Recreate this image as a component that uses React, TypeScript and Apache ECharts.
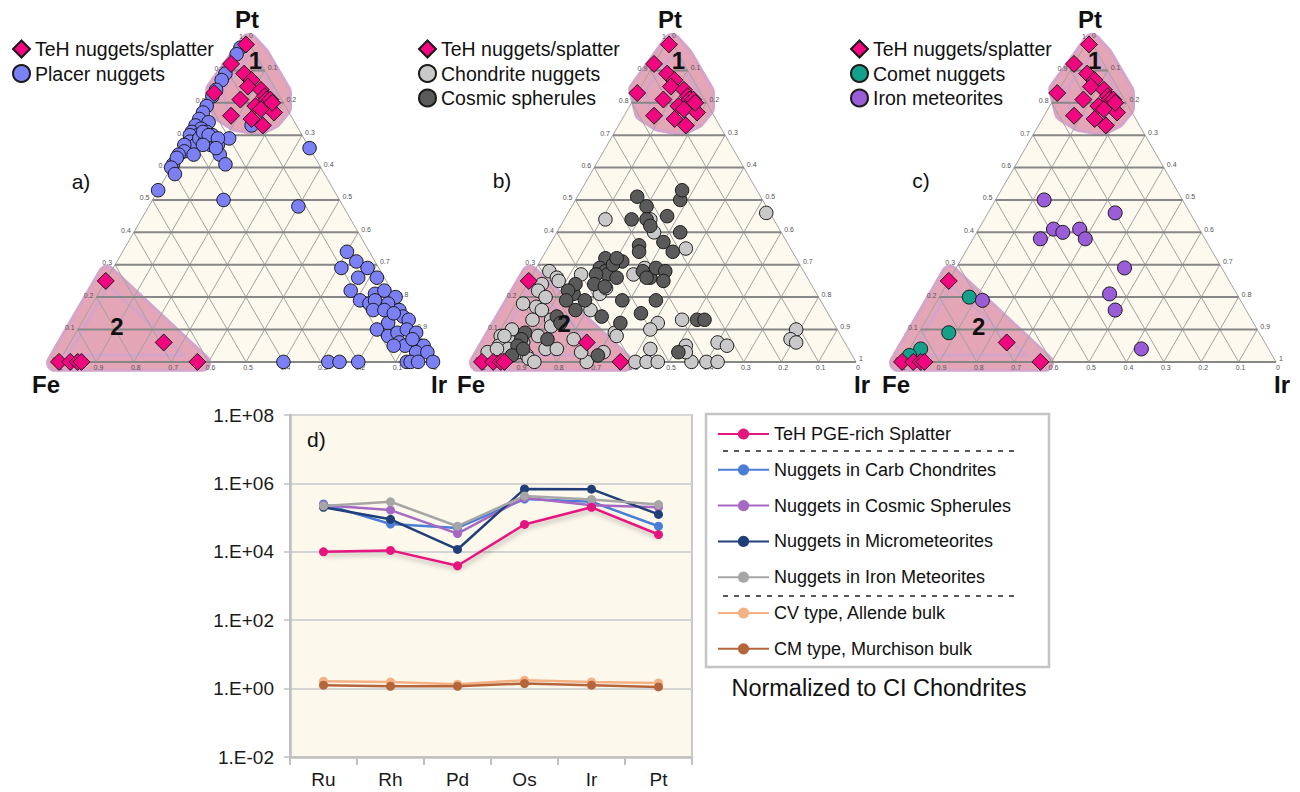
import React, { useEffect, useRef } from 'react';
import * as echarts from 'echarts';

const FONT = '"Liberation Sans", Arial, Helvetica, sans-serif';

// ---------- Ternary data, [Fe, Ir, Pt] in percent ----------
const TEH_NUGGETS = [
  [1, 1, 98], [8, 0, 92], [6, 5, 89], [5, 8, 87], [7, 8, 85], [4, 12, 84], [4, 14, 82], [4, 15, 81], [3, 16, 81],
  [17, 0, 83], [11, 8, 81], [8, 13, 79], [7, 15, 78], [4, 19, 77], [16, 8, 76], [11, 14, 75], [9, 18, 73], [3, 17, 80],
  [75, 0, 25], [69, 25, 6], [63, 37, 0], [100, 0, 0], [97, 3, 0], [95, 5, 0], [94, 6, 0],
];

const PLACER_NUGGETS = [
  [3, 0, 97], [5, 0, 95], [11, 0, 89], [13, 0, 87], [16, 0, 84], [18, 0, 82], [21, 0, 79], [23, 0, 77], [25, 0, 75],
  [23, 3, 74], [27, 0, 73], [26, 2, 72], [29, 0, 71], [28, 2, 70], [25, 4, 71], [24, 6, 70], [30, 0, 70], [31, 1, 68],
  [30, 3, 67], [26, 7, 67], [24, 9, 67], [33, 0, 67], [34, 1, 65], [32, 4, 64], [36, 0, 64], [25, 11, 64], [25, 14, 61],
  [39, 0, 61], [37, 0, 63], [40, 0, 60], [40, 2, 58], [20, 11, 69], [47, 0, 53], [31, 19, 50], [12, 40, 48], [0, 34, 66],
  [12, 15, 73], [28, 3, 69], [27, 5, 68], [26, 3, 71], [25, 5, 70], [23, 8, 69], [28, 5, 67], [25, 9, 66],
  [6, 60, 34], [10, 61, 29], [5, 64, 31], [3, 68, 29], [7, 67, 26], [2, 72, 26], [11, 67, 22], [10, 71, 19], [8, 74, 18],
  [5, 74, 21], [2, 76, 22], [0, 80, 20], [6, 75, 19], [3, 79, 18], [8, 76, 16], [5, 79, 16], [1, 83, 16], [1, 85, 14],
  [6, 82, 12], [10, 80, 10], [8, 84, 8], [5, 86, 9], [0, 87, 13], [2, 88, 10], [0, 91, 9], [6, 88, 6], [5, 90, 5],
  [1, 94, 5], [0, 95, 5], [3, 94, 3], [0, 97, 3], [3, 82, 15], [2, 91, 7], [8, 87, 5],
  [40, 60, 0], [28, 72, 0], [25, 75, 0], [20, 80, 0], [7, 93, 0], [6, 94, 0], [4, 96, 0], [0, 100, 0],
];

const CHONDRITE_NUGGETS = [
  [45, 11, 44], [1, 53, 46], [33, 23, 44], [34, 26, 40], [28, 37, 35], [42, 29, 29], [46, 27, 27], [55, 19, 26],
  [58, 21, 21], [40, 47, 13], [47, 41, 12], [50, 40, 10], [11, 79, 10], [14, 79, 7], [13, 81, 6], [34, 60, 6],
  [32, 63, 5], [43, 52, 5], [53, 43, 4], [60, 31, 9], [66, 31, 3], [72, 28, 0], [59, 41, 0], [56, 44, 0], [53, 47, 0],
  [44, 56, 0], [40, 60, 0], [37, 63, 0], [68, 4, 28], [67, 7, 26], [67, 8, 25], [72, 4, 24], [74, 4, 22], [80, 2, 18],
  [77, 6, 17], [76, 8, 16], [80, 7, 13], [75, 12, 13], [76, 13, 11], [87, 3, 10], [91, 1, 8], [89, 5, 6], [86, 8, 6],
  [81, 11, 8], [81, 15, 4], [78, 18, 4], [93, 2, 5], [91, 5, 4], [89, 8, 3], [87, 11, 2], [87, 12, 1], [72, 21, 7],
  [72, 25, 3], [60, 32, 8], [60, 13, 27], [63, 21, 16], [56, 22, 23], [97, 0, 3], [94, 2, 4], [86, 14, 0], [73, 7, 20],
  [90, 2, 8], [44, 53, 3],
];

const COSMIC_SPHERULES = [
  [33, 16, 51], [32, 20, 48], [22, 28, 50], [20, 27, 53], [38, 18, 44], [34, 22, 44], [34, 24, 42], [28, 27, 45],
  [33, 30, 37], [27, 33, 40], [32, 34, 34], [40, 24, 36], [41, 25, 34], [49, 20, 31], [51, 17, 32], [47, 22, 31],
  [54, 17, 29], [53, 19, 28], [53, 20, 27], [56, 17, 27], [51, 23, 26], [58, 18, 24], [55, 21, 23], [65, 14, 21],
  [43, 29, 28], [42, 32, 26], [39, 32, 29], [37, 35, 28], [39, 36, 25], [53, 28, 19], [44, 37, 19], [63, 18, 19],
  [36, 51, 13], [34, 53, 13], [46, 51, 3], [50, 35, 15], [63, 13, 24], [66, 12, 22], [68, 13, 19], [67, 17, 16],
  [73, 13, 14], [73, 15, 12], [79, 14, 7], [84, 7, 9], [86, 7, 7], [88, 7, 5], [91, 7, 2], [87, 9, 4], [61, 25, 14],
  [68, 30, 2], [57, 31, 12], [50, 20, 30], [48, 20, 32], [43, 31, 26],
];

const COMET_NUGGETS = [[72, 8, 20], [83, 8, 9], [93, 3, 4], [97, 1, 2]];

const IRON_METEORITES = [
  [37, 13, 50], [20, 34, 46], [39, 20, 41], [37, 23, 40], [32, 27, 41], [44, 18, 38], [32, 30, 38], [26, 45, 29],
  [34, 45, 21], [35, 49, 16], [34, 62, 4], [69, 12, 19],
];

// outlines of the highlighted fields (inner edge, [Fe, Ir, Pt] %)
const FIELD_1 = [[-0.2, 1.4, 98.8], [16.5, -0.5, 84], [18.5, 4.6, 76.9], [15.8, 10.4, 73.8], [10.3, 17.2, 72.5],
  [5.4, 19.9, 74.7], [0.9, 20.7, 78.4], [-1.5, 18.2, 83.3], [-1.4, 6.6, 94.8]];
const FIELD_2 = [[73.6, -0.8, 27.2], [101.2, -0.9, -0.3], [61.9, 38.4, -0.3]];
const FIELD_1_LABEL = [[1, 6, 93], [1, 6, 93], [2, 5, 93]];
const FIELD_2_LABEL = [[79, 10, 11], [72, 16, 12], [74, 15, 11]];

// ---------- CI-normalized PGE patterns ----------
const PGE = ['Ru', 'Rh', 'Pd', 'Os', 'Ir', 'Pt'];
const TEH_SPLATTER = [1.0e4, 1.1e4, 3.9e3, 6.3e4, 2.0e5, 3.2e4];
const CARB_CHONDRITES = [2.5e5, 6.5e4, 5.0e4, 3.5e5, 2.9e5, 5.6e4];
const COSMIC_SPH = [2.3e5, 1.66e5, 3.4e4, 3.8e5, 2.3e5, 2.0e5];
const MICROMETEORITES = [2.0e5, 8.9e4, 1.17e4, 6.9e5, 6.8e5, 1.24e5];
const IRON_MET = [2.2e5, 2.9e5, 5.6e4, 4.3e5, 3.4e5, 2.4e5];
const ALLENDE = [1.65, 1.57, 1.35, 1.76, 1.57, 1.47];
const MURCHISON = [1.26, 1.17, 1.17, 1.41, 1.26, 1.12];

const H = Math.sqrt(3) / 2;
const tern = (p: number[]) => {
  const s = p[0] + p[1] + p[2];
  return [(p[1] + p[2] / 2) / s, (p[2] / s) * H];
};
const tick = (k: number) => (k === 0 ? '0' : k === 10 ? '1' : '0.' + k);

const TRI_LEFT = [59, 482, 902];
const FE_DX = [-13, -11, -6];
const TRI_TOP = 38;
const TRI_W = 374;

const FILL = '#fdf9ee';
const HLINE = '#878787';
const DLINE = '#a2a2a2';
const FIELD_FILL = '#e4a5b7';
const FIELD_EDGE = '#d4a4cb';

function buildOption() {
  const grid: any[] = [];
  const xAxis: any[] = [];
  const yAxis: any[] = [];
  const series: any[] = [];
  const legend: any[] = [];

  const panels = [
    { others: [{ name: 'Placer nuggets', data: PLACER_NUGGETS, color: '#7b80f4', size: 13.5 }], legendLeft: 7 },
    {
      others: [
        { name: 'Chondrite nuggets', data: CHONDRITE_NUGGETS, color: '#c9c9c9', size: 13.5 },
        { name: 'Cosmic spherules', data: COSMIC_SPHERULES, color: '#5a5a5a', size: 13.5 },
      ],
      legendLeft: 413,
    },
    {
      others: [
        { name: 'Comet nuggets', data: COMET_NUGGETS, color: '#14a08a', size: 14 },
        { name: 'Iron meteorites', data: IRON_METEORITES, color: '#9b5cd8', size: 14 },
      ],
      legendLeft: 845,
    },
  ];

  panels.forEach((pn, i) => {
    grid.push({ left: TRI_LEFT[i], top: TRI_TOP, width: TRI_W, height: TRI_W * H, outerBoundsMode: 'none' });
    xAxis.push({ type: 'value', gridIndex: i, min: 0, max: 1, show: false });
    yAxis.push({ type: 'value', gridIndex: i, min: 0, max: H, show: false });

    // triangle background + highlighted fields
    series.push({
      type: 'custom', xAxisIndex: i, yAxisIndex: i, silent: true, z: 1, clip: false,
      data: [[0.5, 0.2]],
      renderItem: (_p: any, api: any) => {
        const P = (t: number[]) => api.coord(tern(t));
        const children: any[] = [
          { type: 'polygon', shape: { points: [P([100, 0, 0]), P([0, 100, 0]), P([0, 0, 100])] }, style: { fill: FILL } },
        ];
        [FIELD_1, FIELD_2].forEach((f) => {
          const pts = f.map(P);
          children.push({ type: 'polygon', shape: { points: pts }, style: { fill: FIELD_FILL, stroke: FIELD_EDGE, lineWidth: 18, lineJoin: 'round' } });
          children.push({ type: 'polygon', shape: { points: pts }, style: { fill: 'none', stroke: FIELD_FILL, lineWidth: 12, lineJoin: 'round' } });
        });
        return { type: 'group', children };
      },
    });

    // grid lines, tick labels, corner labels
    series.push({
      type: 'custom', xAxisIndex: i, yAxisIndex: i, silent: true, z: 2, clip: false,
      data: [[0.5, 0.2]],
      renderItem: (_p: any, api: any) => {
        const P = (t: number[]) => api.coord(tern(t));
        const seg = (a: number[], b: number[], stroke: string, w: number) => ({
          type: 'line', shape: { x1: a[0], y1: a[1], x2: b[0], y2: b[1] }, style: { stroke, lineWidth: w },
        });
        const txt = (x: number, y: number, text: string, align: string, va: string, size = 7, bold = false, fill = '#555') => ({
          type: 'text', x, y,
          style: { text, fontSize: size, fontFamily: FONT, fontWeight: bold ? 'bold' : 'normal', fill, align, verticalAlign: va },
        });
        const c: any[] = [];
        for (let k = 0; k <= 9; k++) {
          const a = 10 * k, b = 100 - a;
          c.push(seg(P([b, a, 0]), P([0, a, b]), DLINE, 1));
          c.push(seg(P([a, b, 0]), P([a, 0, b]), DLINE, 1));
        }
        for (let k = 0; k <= 9; k++) {
          const a = 10 * k, b = 100 - a;
          c.push(seg(P([b, 0, a]), P([0, b, a]), HLINE, 2));
        }
        for (let k = 0; k <= 10; k++) {
          const a = 10 * k, b = 100 - a;
          const L = P([b, 0, a]);
          c.push(txt(L[0] - 3, L[1] - 2, tick(k), 'right', 'middle'));
          const R = P([0, b, a]);
          c.push(txt(R[0] + 3, R[1] - 3, tick(10 - k), 'left', 'middle'));
          const B = P([b, a, 0]);
          c.push(txt(B[0] + 2, B[1] + 2, tick(10 - k), 'center', 'top'));
        }
        const top = P([0, 0, 100]);
        const fe = P([100, 0, 0]);
        const ir = P([0, 100, 0]);
        c.push(txt(top[0] + 1, top[1] - 19, 'Pt', 'center', 'middle', 24, true, '#111'));
        c.push(txt(fe[0] + FE_DX[i], fe[1] + 23, 'Fe', 'center', 'middle', 24, true, '#111'));
        c.push(txt(ir[0] + 6, ir[1] + 23, 'Ir', 'center', 'middle', 24, true, '#111'));
        return { type: 'group', children: c };
      },
    });

    pn.others.forEach((o, j) => {
      series.push({
        type: 'scatter', name: o.name, xAxisIndex: i, yAxisIndex: i, z: 3 + j * 0.1, clip: false,
        symbol: 'circle', symbolSize: o.size,
        itemStyle: { color: o.color, borderColor: '#1a1a1a', borderWidth: 1, opacity: 1 },
        data: o.data.map(tern),
      });
    });
    series.push({
      type: 'scatter', name: 'TeH nuggets/splatter', xAxisIndex: i, yAxisIndex: i, z: 4, clip: false,
      symbol: 'diamond', symbolSize: 17,
      itemStyle: { color: '#f2067f', borderColor: '#1a1a1a', borderWidth: 1, opacity: 1 },
      data: TEH_NUGGETS.map(tern),
    });

    // field numbers
    series.push({
      type: 'custom', xAxisIndex: i, yAxisIndex: i, silent: true, z: 5, clip: false,
      data: [[0.5, 0.2]],
      renderItem: (_p: any, api: any) => {
        const P = (t: number[]) => api.coord(tern(t));
        const a = P(FIELD_1_LABEL[i]);
        const b = P(FIELD_2_LABEL[i]);
        const st = (text: string) => ({ text, fontSize: 24, fontWeight: 'bold', fontFamily: FONT, fill: '#111', align: 'center', verticalAlign: 'middle' });
        return {
          type: 'group',
          children: [
            { type: 'text', x: a[0], y: a[1], style: st('1') },
            { type: 'text', x: b[0], y: b[1], style: st('2') },
          ],
        };
      },
    });

    legend.push({
      left: pn.legendLeft, top: 34, orient: 'vertical', itemWidth: 17, itemHeight: 17, itemGap: 4.5,
      selectedMode: false,
      textStyle: { fontSize: 19.5, color: '#111', fontFamily: FONT },
      data: [{ name: 'TeH nuggets/splatter', icon: 'diamond' }, ...pn.others.map((o) => ({ name: o.name, icon: 'circle' }))],
    });
  });

  // ---------- line chart (d) ----------
  grid.push({
    left: 290, top: 415, width: 402, height: 342, show: true, backgroundColor: '#fdf8ec',
    borderColor: '#c8c8c8', borderWidth: 2, outerBoundsMode: 'none',
  });
  xAxis.push({
    type: 'category', gridIndex: 3, data: PGE, boundaryGap: true,
    axisLine: { show: true, lineStyle: { color: '#c0c0c0', width: 2.5 } },
    axisTick: { show: true, length: 8, interval: 0, lineStyle: { color: '#c0c0c0', width: 2 } },
    axisLabel: { fontSize: 19, color: '#1a1a1a', fontFamily: FONT, margin: 13 },
  });
  yAxis.push({
    type: 'log', logBase: 10, gridIndex: 3, min: 0.01, max: 1e8, interval: 2, splitNumber: 5,
    axisLine: { show: true, lineStyle: { color: '#c0c0c0', width: 2.5 } },
    axisTick: { show: true, length: 6, lineStyle: { color: '#c0c0c0', width: 1.5 } },
    splitLine: { show: true, lineStyle: { color: '#d4d4d4', width: 2 } },
    axisLabel: {
      fontSize: 19, color: '#1a1a1a', fontFamily: FONT, margin: 16,
      formatter: (v: number) => {
        const e = Math.round(Math.log10(v));
        return '1.E' + (e < 0 ? '-' : '+') + String(Math.abs(e)).padStart(2, '0');
      },
    },
  });

  const lines = [
    { name: 'CV type, Allende bulk', data: ALLENDE, color: '#f4b183' },
    { name: 'CM type, Murchison bulk', data: MURCHISON, color: '#b5653a' },
    { name: 'Nuggets in Carb Chondrites', data: CARB_CHONDRITES, color: '#4a7ed6' },
    { name: 'Nuggets in Cosmic Spherules', data: COSMIC_SPH, color: '#a569c3' },
    { name: 'Nuggets in Micrometeorites', data: MICROMETEORITES, color: '#203f78' },
    { name: 'Nuggets in Iron Meteorites', data: IRON_MET, color: '#a6a6a6' },
    { name: 'TeH PGE-rich Splatter', data: TEH_SPLATTER, color: '#e5157f' },
  ];
  lines.forEach((l) => {
    const pink = l.name.startsWith('TeH');
    series.push({
      type: 'line', name: l.name, xAxisIndex: 3, yAxisIndex: 3, data: l.data,
      symbol: 'circle', symbolSize: 9, showSymbol: true, z: 3,
      itemStyle: { color: l.color },
      lineStyle: pink
        ? { color: l.color, width: 2.5, shadowColor: 'rgba(0,0,0,0.3)', shadowBlur: 5, shadowOffsetY: 3, shadowOffsetX: 1 }
        : { color: l.color, width: 2.5 },
    });
  });
  legend.push({
    left: 712, top: 420, orient: 'vertical', itemWidth: 51, itemHeight: 14, itemGap: 17.8, selectedMode: false,
    textStyle: { fontSize: 18, color: '#111', fontFamily: FONT },
    data: [
      'TeH PGE-rich Splatter', 'Nuggets in Carb Chondrites', 'Nuggets in Cosmic Spherules',
      'Nuggets in Micrometeorites', 'Nuggets in Iron Meteorites', 'CV type, Allende bulk', 'CM type, Murchison bulk',
    ],
  });

  const graphic: any[] = [
    { type: 'rect', z: 0, shape: { x: 706, y: 414, width: 343, height: 253 }, style: { fill: '#fff', stroke: '#c4c4c4', lineWidth: 2.5 } },
    { type: 'line', z: 1, shape: { x1: 723, y1: 451, x2: 1020, y2: 451 }, style: { stroke: '#222', lineWidth: 1.5, lineDash: [5, 6] } },
    { type: 'line', z: 1, shape: { x1: 723, y1: 596, x2: 1020, y2: 596 }, style: { stroke: '#222', lineWidth: 1.5, lineDash: [5, 6] } },
    { type: 'text', z: 5, x: 879, y: 688, style: { text: 'Normalized to CI Chondrites', fontSize: 23.5, fontFamily: FONT, fill: '#111', align: 'center', verticalAlign: 'middle' } },
    { type: 'text', z: 5, x: 307, y: 439, style: { text: 'd)', fontSize: 21, fontFamily: FONT, fill: '#111', align: 'left', verticalAlign: 'middle' } },
    { type: 'text', z: 5, x: 81, y: 181, style: { text: 'a)', fontSize: 21, fontFamily: FONT, fill: '#111', align: 'center', verticalAlign: 'middle' } },
    { type: 'text', z: 5, x: 502, y: 180, style: { text: 'b)', fontSize: 21, fontFamily: FONT, fill: '#111', align: 'center', verticalAlign: 'middle' } },
    { type: 'text', z: 5, x: 921, y: 180, style: { text: 'c)', fontSize: 21, fontFamily: FONT, fill: '#111', align: 'center', verticalAlign: 'middle' } },
  ];

  return {
    animation: false,
    backgroundColor: '#ffffff',
    textStyle: { fontFamily: FONT },
    grid, xAxis, yAxis, series, legend, graphic,
  };
}

export default function App() {
  const ref = useRef<HTMLDivElement>(null);
  useEffect(() => {
    const chart = echarts.init(ref.current as HTMLDivElement, null, { renderer: 'svg' });
    chart.setOption(buildOption() as any);
    return () => chart.dispose();
  }, []);
  return (
    <div
      ref={ref}
      style={{ position: 'absolute', left: 0, top: 0, width: 1300, height: 792, background: '#fff' }}
    />
  );
}
